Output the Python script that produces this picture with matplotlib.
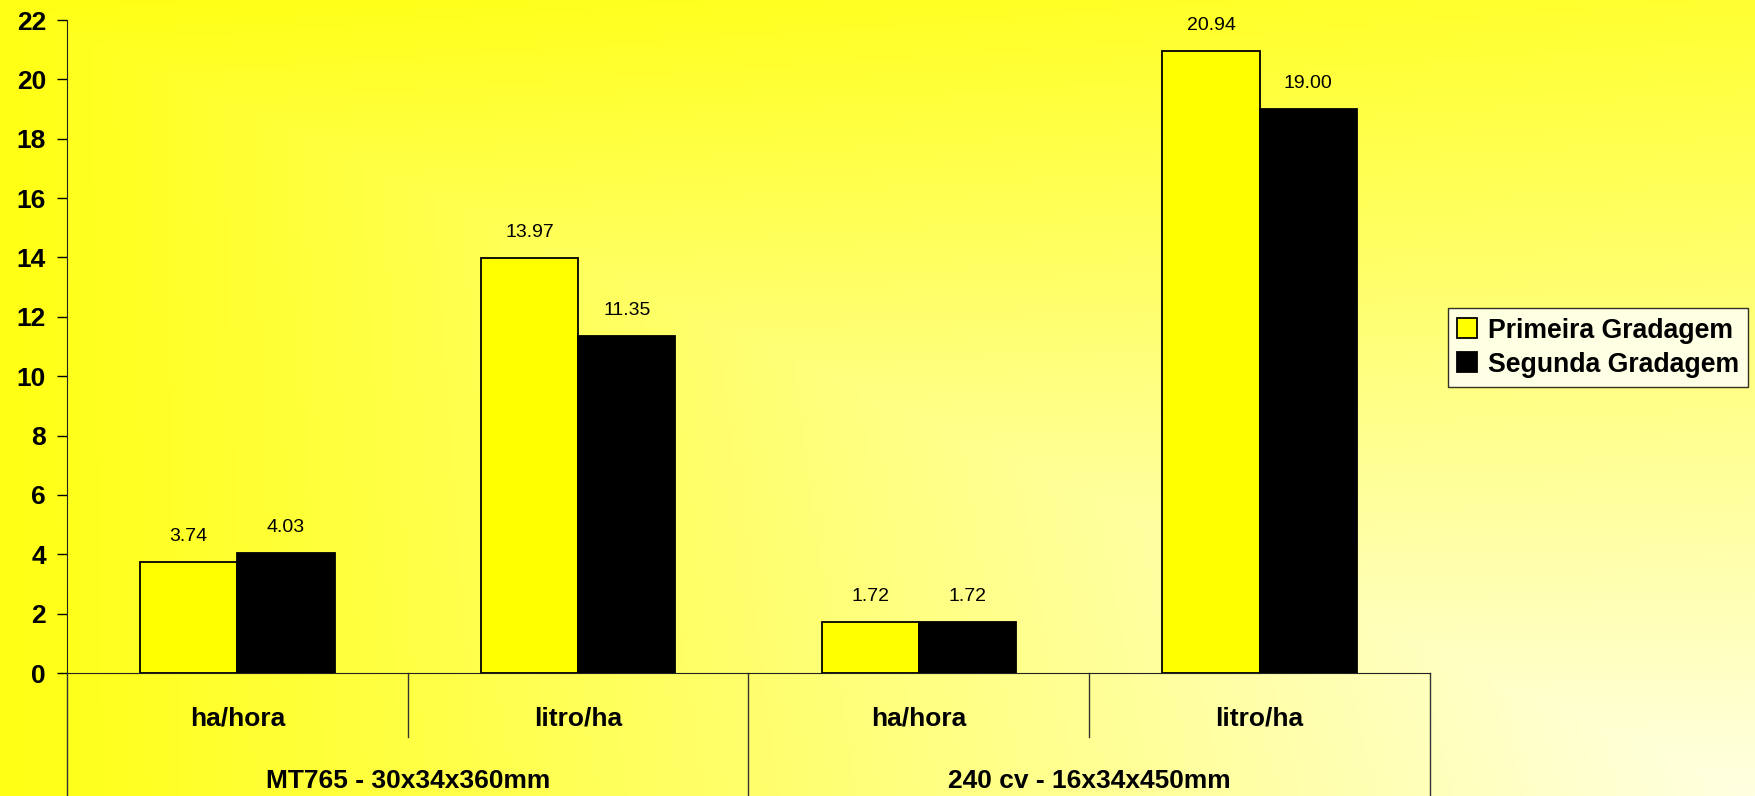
import numpy as np
import matplotlib.pyplot as plt

plt.rcParams['font.family'] = ['Liberation Sans', 'DejaVu Sans']

groups = ['MT765 - 30x34x360mm', '240 cv - 16x34x450mm']
units = ['ha/hora', 'litro/ha', 'ha/hora', 'litro/ha']
primeira = [3.74, 13.97, 1.72, 20.94]
segunda = [4.03, 11.35, 1.72, 19.00]
series_names = ['Primeira Gradagem', 'Segunda Gradagem']
yticks = list(range(0, 23, 2))

fig = plt.figure(figsize=(17.56, 7.96), dpi=100)

# diagonal yellow -> cream background
bg = fig.add_axes([0, 0, 1, 1])
bg.axis('off')
u = np.linspace(0, 1, 400)[None, :]
v = np.linspace(0, 1, 200)[:, None]
blue = 20 + 205 * np.minimum(u, v) + 30 * u * (1 - v)
img = np.zeros((200, 400, 3))
img[..., 0] = 1
img[..., 1] = 1
img[..., 2] = blue / 255
bg.imshow(img, aspect='auto', extent=[0, 1, 0, 1], origin='upper')
bg.set_xlim(0, 1)
bg.set_ylim(0, 1)

ax = fig.add_axes([0.03815, 0.15452, 0.7762, 0.82035])
ax.set_facecolor('none')

x = np.arange(len(units))
w = 0.2857
b1 = ax.bar(x - w / 2, primeira, w, color='#FFFF00', edgecolor='black', linewidth=1.3, label=series_names[0])
b2 = ax.bar(x + w / 2, segunda, w, color='black', edgecolor='black', linewidth=1.3, label=series_names[1])

for xs, vals in [(x - w / 2, primeira), (x + w / 2, segunda)]:
    for xi, val in zip(xs, vals):
        ax.annotate(f'{val:.2f}', (xi, val), xytext=(0, 12.5), textcoords='offset points',
                    ha='center', va='bottom', fontsize=14)

ax.set_xlim(-0.5, 3.5)
ax.set_ylim(0, 22)
ax.set_yticks(yticks)
ax.tick_params(axis='y', direction='out', length=7.2, width=1, pad=8, labelsize=19)
for lab in ax.get_yticklabels():
    lab.set_fontweight('bold')
ax.set_xticks([])
ax.spines['top'].set_visible(False)
ax.spines['right'].set_visible(False)
ax.spines['left'].set_color('#222222')
ax.spines['bottom'].set_color('#222222')

# two-level category axis
trans = ax.get_xaxis_transform()
for xs in [0.5, 2.5]:
    ax.plot([xs, xs], [0, -0.098], transform=trans, color='#333333', lw=1, clip_on=False)
for xs in [-0.5, 1.5, 3.5]:
    ax.plot([xs, xs], [0, -0.2], transform=trans, color='#333333', lw=1, clip_on=False)
for xi, lab in zip(x, units):
    ax.text(xi, -0.069, lab, transform=trans, ha='center', va='center',
            fontsize=19, fontweight='bold')
for gi, lab in enumerate(groups):
    ax.text(0.5 + 2 * gi, -0.165, lab, transform=trans, ha='center', va='center',
            fontsize=19, fontweight='bold')

leg = fig.legend(handles=[b1, b2], labels=series_names, loc='center left',
                 bbox_to_anchor=(0.8246, 0.5634), fontsize=19.2, frameon=True,
                 fancybox=False, handlelength=0.75, handleheight=0.75,
                 handletextpad=0.4, borderpad=0.35, labelspacing=0.3,
                 borderaxespad=0)
leg.get_frame().set_edgecolor('black')
leg.get_frame().set_linewidth(1)
leg.get_frame().set_facecolor('white')
for t in leg.get_texts():
    t.set_fontweight('bold')

fig.savefig('out.png', dpi=100)
